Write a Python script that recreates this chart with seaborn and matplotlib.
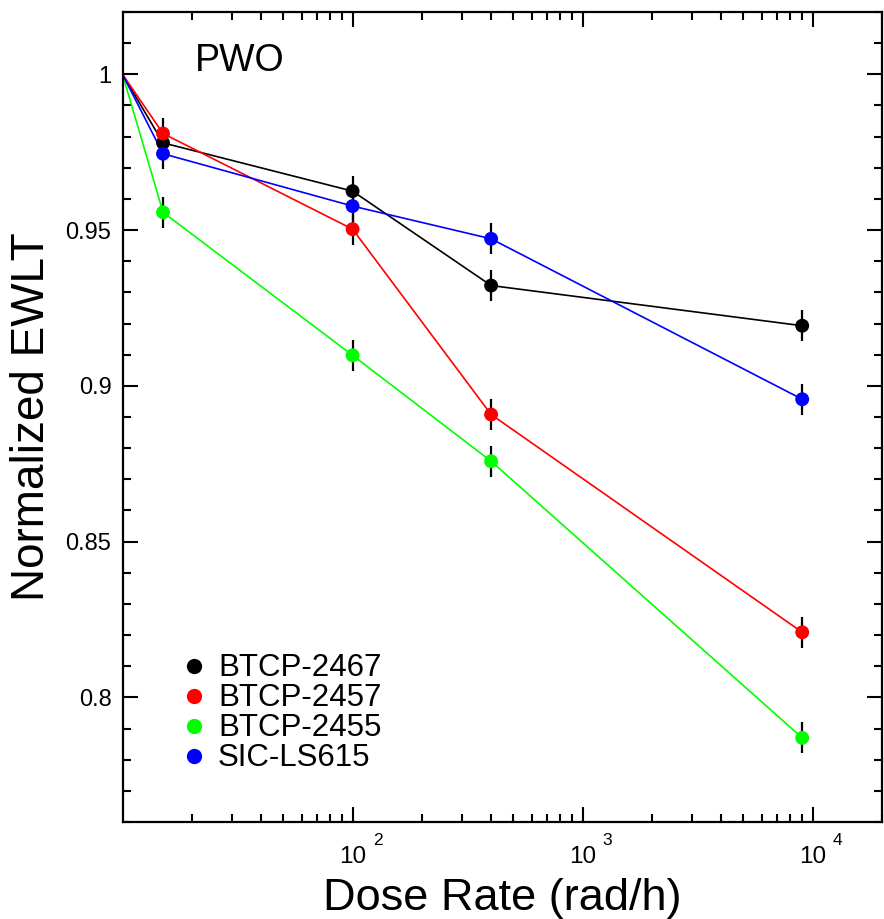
import numpy as np
import pandas as pd
import matplotlib
matplotlib.use("Agg")
import matplotlib.pyplot as plt
import seaborn as sns
from matplotlib.ticker import FixedLocator, LogLocator, MultipleLocator, NullFormatter, FixedFormatter

# ---- data ----
dose_rate = [10, 15, 100, 400, 9000]
series_names = ["BTCP-2467", "BTCP-2457", "BTCP-2455", "SIC-LS615"]
btcp_2467 = [1.0, 0.978, 0.9625, 0.9322, 0.9193]
btcp_2457 = [1.0, 0.981, 0.9503, 0.8908, 0.8209]
btcp_2455 = [1.0, 0.9557, 0.9098, 0.8758, 0.787]
sic_ls615 = [1.0, 0.9745, 0.9577, 0.9472, 0.8957]
err_2467 = [0.0, 0.005, 0.005, 0.005, 0.005]
err_2457 = [0.0, 0.005, 0.005, 0.005, 0.005]
err_2455 = [0.0, 0.005, 0.005, 0.005, 0.005]
err_ls615 = [0.0, 0.005, 0.005, 0.005, 0.005]
colors = ["#000000", "#ff0000", "#00ff00", "#0000ff"]
x_major_ticks = [100, 1000, 10000]
x_tick_base = ["10", "10", "10"]
x_tick_exponents = ["2", "3", "4"]
y_ticks = [0.8, 0.85, 0.9, 0.95, 1.0]
y_tick_labels = ["0.8", "0.85", "0.9", "0.95", "1"]

values = [btcp_2467, btcp_2457, btcp_2455, sic_ls615]
errors = [err_2467, err_2457, err_2455, err_ls615]

rows = []
for name, vals, errs in zip(series_names, values, errors):
    for i, (x, y, e) in enumerate(zip(dose_rate, vals, errs)):
        rows.append({"dose": x, "ewlt": y, "err": e, "sample": name, "idx": i})
df = pd.DataFrame(rows)

sns.set_theme(style="ticks")
plt.rcParams["font.family"] = ["Liberation Sans", "DejaVu Sans"]
plt.rcParams["text.color"] = "black"
plt.rcParams["axes.labelcolor"] = "black"
plt.rcParams["xtick.color"] = "black"
plt.rcParams["ytick.color"] = "black"

W, H = 884, 919
fig = plt.figure(figsize=(W / 100, H / 100), dpi=100)
ax = fig.add_axes([122.5 / W, 1 - 822 / H, (882 - 122.5) / W, (822 - 12) / H])

palette = dict(zip(series_names, colors))

sns.lineplot(data=df, x="dose", y="ewlt", hue="sample", palette=palette,
             hue_order=series_names, legend=False, ax=ax, linewidth=1.2,
             estimator=None, sort=True, zorder=2)

pts = df[df["idx"] > 0]
for name in series_names:
    sub = pts[pts["sample"] == name]
    ax.errorbar(sub["dose"], sub["ewlt"], yerr=sub["err"], fmt="none",
                ecolor="black", elinewidth=1.6, capsize=0, zorder=3)

sns.scatterplot(data=pts, x="dose", y="ewlt", hue="sample", palette=palette,
                hue_order=series_names, s=100, edgecolor="none", ax=ax,
                zorder=4, legend=True)

ax.set_xscale("log")
ax.set_xlim(10, 2.0e4)
ax.set_ylim(0.76, 1.02)

ax.xaxis.set_major_locator(FixedLocator(x_major_ticks))
ax.xaxis.set_major_formatter(FixedFormatter(x_tick_base))
ax.xaxis.set_minor_locator(LogLocator(base=10, subs=np.arange(2, 10), numticks=20))
ax.xaxis.set_minor_formatter(NullFormatter())
ax.yaxis.set_minor_locator(MultipleLocator(0.01))
ax.set_yticks(y_ticks)
ax.set_yticklabels(y_tick_labels)

ax.tick_params(which="both", direction="in", top=True, right=True,
               width=1.5, colors="black")
ax.tick_params(which="major", length=11, labelsize=17, pad=8)
ax.tick_params(which="minor", length=5.5)
ax.tick_params(axis="x", which="major", labelsize=17.5, pad=17.5)

# exponents of the decade labels, raised to the upper right of "10"
for xt, ex in zip(x_major_ticks, x_tick_exponents):
    ax.annotate(ex, xy=(xt, 0), xycoords=("data", "axes fraction"),
                xytext=(14.5, -8), textcoords="offset points",
                ha="left", va="top", fontsize=12.5, annotation_clip=False)

for sp in ax.spines.values():
    sp.set_linewidth(1.6)
    sp.set_color("black")

ax.set_xlabel("Dose Rate (rad/h)", fontsize=32.5)
ax.xaxis.set_label_coords(0.5, (822 - 910) / 810)
ax.xaxis.label.set_verticalalignment("baseline")
ax.set_ylabel("Normalized EWLT", fontsize=33, labelpad=8)

ax.text(0.0955, 0.9395, "PWO", transform=ax.transAxes, fontsize=27,
        ha="left", va="center")

leg = ax.legend(loc="upper left", bbox_to_anchor=(0.057, 0.2235),
                frameon=False, fontsize=22.5, handletextpad=0.27,
                labelspacing=0.0, borderaxespad=0, handlelength=1.0,
                markerscale=1.1, title=None)

fig.savefig("out.png", dpi=100)
